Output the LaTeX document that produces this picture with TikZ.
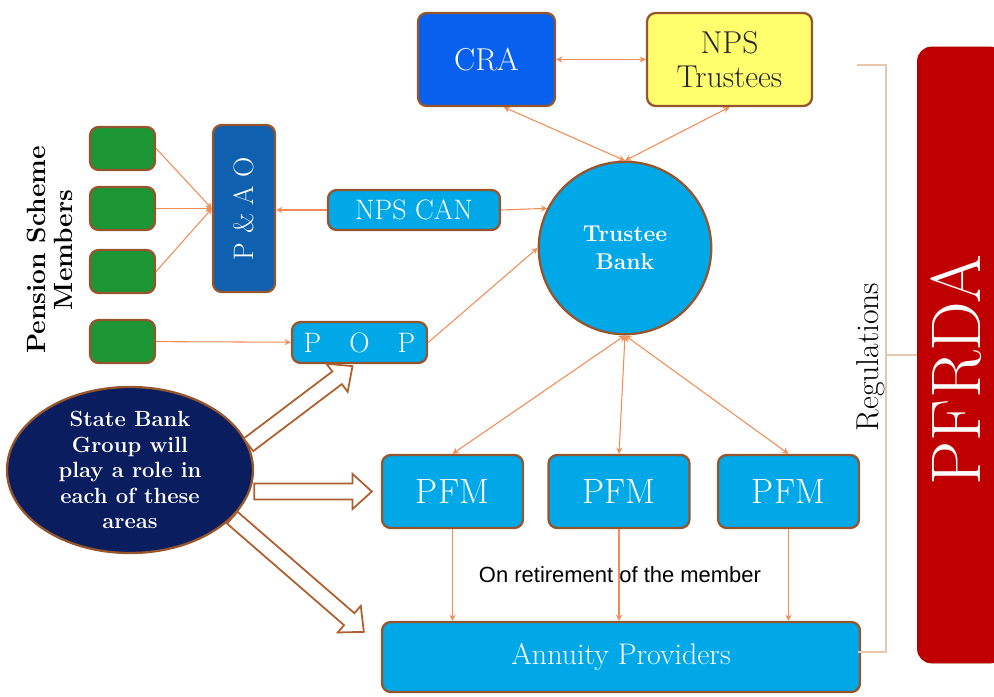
\documentclass[tikz,border=0pt]{standalone}
\usepackage{fontspec}
\newfontfamily\notefont{Liberation Sans}
\usepackage{tikz}
\usetikzlibrary{arrows}
\usetikzlibrary{shapes,positioning}
\usetikzlibrary{calc}
\tikzset{>=stealth}

\definecolor{craBlue}{RGB}{8,96,238}
\definecolor{trYellow}{RGB}{255,255,110}
\definecolor{skyBlue}{RGB}{0,168,232}
\definecolor{paoBlue}{RGB}{16,96,176}
\definecolor{memGreen}{RGB}{28,150,52}
\definecolor{sbgNavy}{RGB}{10,30,95}
\definecolor{pfrdaRed}{RGB}{192,0,0}
\definecolor{rim}{RGB}{150,85,45}
\definecolor{flow}{RGB}{240,140,85}
\definecolor{regLine}{RGB}{232,200,172}

\tikzset{
  blk/.style={draw=rim, line width=1.3pt, rounded corners=5pt, inner sep=0pt, align=center},
  flowline/.style={draw=flow, line width=0.6pt},
  hollow/.style={draw={rgb,255:red,175;green,95;blue,45}, line width=1pt, fill=white},
  regline/.style={draw=regLine, line width=0.8pt}
}

% hollow block arrow from #1 to #2
\newcommand{\sbgarrow}[2]{%
  \coordinate (fa) at ($(#2)!11pt!(#1)$);
  \draw [hollow] ($(#1)!4.5pt!90:(#2)$) -- ($(fa)!4.5pt!90:(#2)$) -- ($(fa)!10pt!90:(#2)$)
    -- (#2) -- ($(fa)!10pt!-90:(#2)$) -- ($(fa)!4.5pt!-90:(#2)$) -- ($(#1)!4.5pt!-90:(#2)$) -- cycle;}

\begin{document}
\begin{tikzpicture}

  \useasboundingbox (0,0) rectangle (19.88,-13.94);

  % top row
  \node [blk, fill=craBlue, text=white, minimum width=2.74cm, minimum height=1.86cm,
    font=\fontsize{18}{20}\selectfont] (cra) at (9.73,-1.19) {CRA};
  \node [blk, fill=trYellow, text=black!85, minimum width=3.3cm, minimum height=1.86cm,
    font=\fontsize{18}{19}\selectfont] (npst) at (14.59,-1.19) {NPS\\Trustees};

  \node [circle, draw=rim, line width=1.3pt, fill=skyBlue, text=white, minimum size=3.45cm,
    inner sep=0pt, align=center, font=\fontsize{13}{16}\selectfont\bfseries] (bank) at (12.5,-4.96) {Trustee\\Bank};

  % members and intermediaries
  \node [rotate=90, align=center, font=\fontsize{15}{15}\selectfont\bfseries] (members) at (1.0,-5.0) {Pension Scheme\\Members};
  \foreach \y [count=\i] in {-2.97,-4.17,-5.43,-6.83}
    \node [blk, fill=memGreen, minimum width=1.3cm, minimum height=0.86cm] (mem\i) at (2.45,\y) {};

  \node [blk, fill=paoBlue, text=white, minimum width=1.24cm, minimum height=3.34cm,
    font=\fontsize{16}{18}\selectfont] (paao) at (4.88,-4.17) {\rotatebox{90}{P \& A O}};
  \node [blk, fill=skyBlue, text=white, minimum width=3.44cm, minimum height=0.8cm,
    font=\fontsize{16}{18}\selectfont] (npscan) at (8.28,-4.2) {NPS CAN};
  \node [blk, fill=skyBlue, text=white, minimum width=2.7cm, minimum height=0.82cm,
    font=\fontsize{16}{18}\selectfont] (pop) at (7.19,-6.85) {P\quad O\quad P};

  % fund managers
  \foreach \x [count=\i] in {9.05,12.38,15.77}
    \node [blk, fill=skyBlue, text=white, minimum width=2.82cm, minimum height=1.46cm,
      font=\fontsize{20}{22}\selectfont] (pfm\i) at (\x,-9.83) {PFM};
  \node [blk, fill=skyBlue, text=white, minimum width=9.56cm, minimum height=1.4cm,
    font=\fontsize{17}{19}\selectfont] (annuity) at (12.42,-13.14) {Annuity Providers};
  \node [font=\notefont\fontsize{12.5}{14}\selectfont] (retire) at (12.4,-11.5) {On retirement of the member};

  \node [ellipse, draw=rim, line width=1.3pt, fill=sbgNavy, text=white, minimum width=4.92cm,
    minimum height=3.12cm, inner sep=0pt, align=center,
    font=\fontsize{12.5}{14.5}\selectfont\bfseries] (sbg) at (2.6,-9.4) {State Bank\\Group will\\play a role in\\each of these\\areas};

  % regulator
  \node [fill=pfrdaRed, draw=pfrdaRed!85!black, rounded corners=8pt, minimum width=1.74cm, minimum height=12.32cm]
    (pfrda) at (19.22,-7.1) {};
  \node [text=white, font=\fontsize{40}{40}\selectfont, inner sep=0pt] (pfrdaname)
    at ($(pfrda.center)+(-0.1,-0.3)$) {\rotatebox{90}{PFRDA}};
  \node [rotate=90, font=\fontsize{18}{18}\selectfont] (reg) at (17.42,-7.14) {Regulations};

  \coordinate (regtop) at (17.14,-1.3);
  \coordinate (regbot) at (17.16,-13.04);
  \coordinate (regmid) at ($(pfrda.west)+(-0.62,0)$);
  \draw [regline] (regtop) -| (regmid) |- (regbot);
  \draw [regline] (regmid) -- (pfrda.west);

  % flows
  \draw [flowline,<->] (cra) -- (npst);
  \draw [flowline,<->] (cra.-70) -- (bank.north);
  \draw [flowline,<->] (npst.south) -- (bank.north);

  \foreach \i in {1,2,3}
    \draw [flowline,->] (mem\i.east) -- (paao.west);
  \draw [flowline,->] (mem4) -- (pop);
  \draw [flowline,->] (npscan.west) -- (npscan.west -| paao.east);
  \draw [flowline,->] (npscan.east) -- (bank.153.5);
  \draw [flowline,->] (pop.east) -- (bank.west);

  \foreach \i in {1,2,3}
    \draw [flowline,<->] (bank.south) -- (pfm\i.north);
  \foreach \i in {1,2,3}
    \draw [flowline,->] (pfm\i.south) -- (pfm\i.south |- annuity.north);

  % state bank group
  \coordinate (popTip) at ($(pop.south)+(-0.14,-0.04)$);
  \coordinate (pfmTip) at ($(pfm1.west)+(-0.18,0)$);
  \coordinate (annTip) at ($(annuity.north west)+(-0.34,-0.22)$);
  \coordinate (sbgMid) at (sbg.east |- pfm1.west);
  \sbgarrow{sbg.12}{popTip}
  \sbgarrow{sbgMid}{pfmTip}
  \sbgarrow{sbg.-25}{annTip}

\end{tikzpicture}
\end{document}
